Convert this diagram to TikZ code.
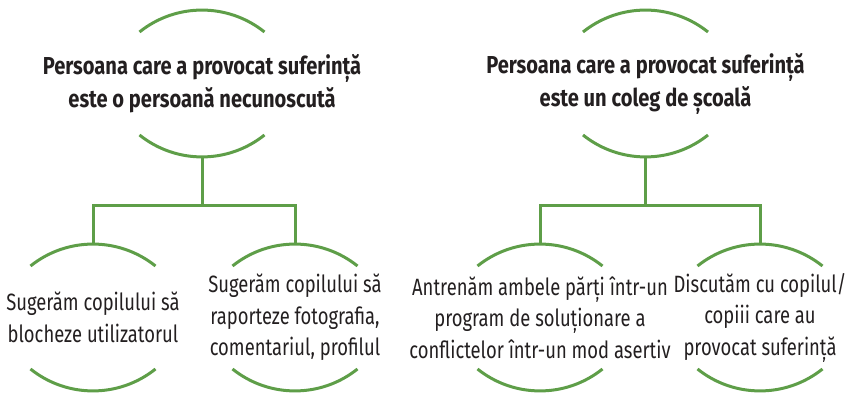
\documentclass[tikz,border=0pt]{standalone}
\usepackage{fontspec}
\setmainfont[FakeStretch=0.78]{Fira Sans}
\newfontfamily\headfont[FakeStretch=0.82]{Fira Sans}
\usetikzlibrary{calc}
\definecolor{leaf}{RGB}{94,158,72}
\definecolor{ink}{RGB}{35,31,32}
\tikzset{
  bubble/.style={minimum width=125pt, minimum height=147pt, inner sep=0pt, align=center, text=ink},
  headtext/.style={bubble, font=\headfont\fontsize{24.5}{33}\selectfont\bfseries},
  leaftext/.style={bubble, font=\fontsize{23.6}{31.5}\selectfont},
  arcline/.style={draw=leaf, line width=3pt},
  link/.style={draw=leaf, line width=3pt}
}
\begin{document}
\begin{tikzpicture}[x=1pt,y=1pt]
\useasboundingbox (0,0) rectangle (848,393);
% parents
\node[headtext] (p1) at (202,309.5) {Persoana care a provocat suferință\\este o persoană necunoscută};
\node[headtext] (p2) at (645.5,309.5) {Persoana care a provocat suferință\\este un coleg de școală};
% children
\node[leaftext] (c1) at (93,75.5) {Sugerăm copilului să\\blocheze utilizatorul};
\node[leaftext] (c2) at (295,75.5) {Sugerăm copilului să\\raporteze fotografia,\\comentariul, profilul};
\node[leaftext] (c3) at (540,75.5) {Antrenăm ambele părți într-un\\program de soluționare a\\conflictelor într-un mod asertiv};
\node[leaftext] (c4) at (760,75.5) {Discutăm cu copilul/\\copiii care au\\provocat suferință};
% arcs
\foreach \n in {p1,p2,c1,c2,c3,c4}{
  \draw[arcline] ($(\n.center)+(-62.5,51.5)$) arc[start angle=128.68, end angle=51.32, radius=100];
  \draw[arcline] ($(\n.center)+(-62.5,-51.5)$) arc[start angle=231.32, end angle=308.68, radius=100];
}
% connectors
\draw[link] (p1.south) -- ++(0,-48) coordinate (j1);
\draw[link] (j1) -| (c1.north);
\draw[link] (j1) -| (c2.north);
\draw[link] (p2.south) -- ++(0,-48) coordinate (j2);
\draw[link] (j2) -| (c3.north);
\draw[link] (j2) -| (c4.north);
\end{tikzpicture}
\end{document}
